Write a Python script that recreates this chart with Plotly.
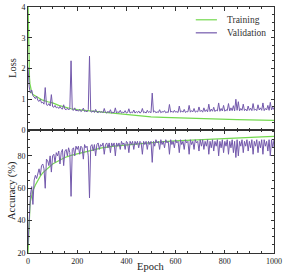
import numpy as np
import plotly.graph_objects as go
from plotly.subplots import make_subplots

# ---------------- data ----------------
train_epochs = [0, 2, 4, 6, 8, 10, 15, 20, 30, 40, 50, 60, 80, 100, 125, 150, 175, 200,
                250, 300, 350, 400, 450, 500, 550, 600, 650, 700, 750, 800, 850, 900, 950, 1000]
train_loss = [4.2, 2.7, 2.0, 1.7, 1.5, 1.4, 1.22, 1.15, 1.1, 1.05, 1.0, 0.97, 0.92, 0.88, 0.8,
              0.74, 0.69, 0.66, 0.62, 0.58, 0.53, 0.49, 0.45, 0.43, 0.41, 0.395, 0.38, 0.37,
              0.36, 0.35, 0.34, 0.33, 0.32, 0.31]
train_acc = [20, 30, 38, 44, 49, 52, 56, 58.5, 62, 65, 67.5, 69.5, 72.5, 75, 77, 79, 80.3, 81.3,
             83.3, 85, 86, 86.8, 87.6, 88.3, 88.8, 89.3, 89.7, 90.1, 90.5, 90.8, 91.1, 91.4,
             91.7, 92]

val_epochs = list(range(0, 1001, 5))
val_loss = [
    2.05, 1.40, 1.20, 1.30, 1.12, 1.08, 1.02, 1.10, 0.96, 0.93,
    1.00, 0.88, 0.90, 0.84, 1.38, 0.82, 0.80, 0.86, 0.78, 1.15,
    0.76, 0.74, 0.80, 0.72, 0.75, 0.70, 0.77, 0.70, 0.68, 0.82,
    0.68, 0.66, 0.71, 0.65, 0.69, 2.25, 0.66, 0.64, 0.72, 0.62,
    0.65, 0.61, 0.67, 0.60, 0.63, 0.71, 0.60, 0.62, 0.59, 0.66,
    2.40, 0.60, 0.58, 0.63, 0.57, 0.67, 0.58, 0.56, 0.62, 0.57,
    0.60, 0.56, 0.70, 0.57, 0.55, 0.61, 0.56, 0.66, 0.55, 0.58,
    0.56, 0.72, 0.55, 0.60, 0.56, 0.64, 0.55, 0.58, 0.56, 0.63,
    0.55, 0.57, 0.69, 0.55, 0.58, 0.56, 0.65, 0.55, 0.60, 0.56,
    0.62, 0.55, 0.58, 0.70, 0.56, 0.59, 0.55, 0.64, 0.57, 0.60,
    0.56, 1.20, 0.58, 0.62, 0.56, 0.59, 0.57, 0.66, 0.56, 0.60,
    0.58, 0.63, 0.56, 0.59, 0.57, 0.83, 0.58, 0.61, 0.57, 0.64,
    0.58, 0.60, 0.57, 0.78, 0.58, 0.62, 0.58, 0.67, 0.57, 0.60,
    0.59, 0.80, 0.58, 0.63, 0.59, 0.70, 0.58, 0.61, 0.59, 0.75,
    0.60, 0.64, 0.58, 0.72, 0.60, 0.66, 0.59, 0.84, 0.60, 0.68,
    0.61, 0.74, 0.60, 0.65, 0.62, 0.88, 0.61, 0.70, 0.62, 0.80,
    0.61, 0.66, 0.63, 0.86, 0.62, 0.72, 0.63, 0.79, 0.62, 1.00,
    0.64, 0.92, 0.62, 0.70, 0.64, 0.84, 0.63, 0.68, 0.62, 0.78,
    0.64, 0.71, 0.63, 0.86, 0.64, 0.68, 0.63, 0.82, 0.65, 0.72,
    0.64, 0.88, 0.63, 0.70, 0.65, 0.80, 0.64, 0.90, 0.65, 0.74,
    0.66,
]
val_acc = [
    25, 46, 56, 61, 50, 65, 68, 66, 70, 72,
    68, 74, 75, 72, 60, 78, 77, 74, 80, 70,
    80, 81, 76, 82, 80, 83, 75, 82, 84, 74,
    83, 84, 80, 85, 82, 55, 84, 85, 80, 86,
    84, 86, 81, 86, 85, 78, 87, 85, 86, 80,
    54, 86, 87, 83, 87, 80, 87, 88, 84, 87,
    86, 88, 81, 87, 88, 85, 88, 82, 88, 86,
    88, 80, 88, 86, 88, 84, 89, 87, 88, 84,
    89, 88, 82, 89, 87, 89, 84, 89, 87, 89,
    85, 89, 88, 81, 89, 87, 89, 84, 89, 87,
    89, 76, 89, 86, 90, 88, 89, 84, 90, 87,
    89, 85, 90, 88, 89, 81, 90, 87, 89, 85,
    90, 88, 89, 82, 90, 87, 89, 84, 90, 88,
    89, 81, 90, 87, 89, 84, 90, 88, 89, 83,
    90, 86, 90, 84, 89, 86, 90, 81, 89, 85,
    90, 83, 89, 86, 90, 80, 89, 85, 90, 82,
    89, 86, 90, 81, 89, 85, 90, 82, 89, 79,
    90, 80, 89, 86, 90, 82, 89, 86, 90, 83,
    89, 85, 90, 81, 89, 86, 90, 82, 89, 85,
    90, 81, 90, 86, 89, 83, 90, 80, 90, 85,
    90,
]
assert len(val_loss) == len(val_epochs) == len(val_acc)

# ---------------- style ----------------
C_TRAIN = "#74d94f"
C_VAL = "#7359ac"
FONT = "Liberation Serif"
AXC = "#333333"
TXT = "#222222"

fig = make_subplots(rows=2, cols=1, shared_xaxes=True, vertical_spacing=0)

fig.add_trace(go.Scatter(x=train_epochs, y=train_loss, mode="lines", name="Training",
                         line=dict(color=C_TRAIN, width=1.2), showlegend=False), row=1, col=1)
fig.add_trace(go.Scatter(x=val_epochs, y=val_loss, mode="lines", name="Validation",
                         line=dict(color=C_VAL, width=1), showlegend=False), row=1, col=1)
fig.add_trace(go.Scatter(x=train_epochs, y=train_acc, mode="lines", name="Training",
                         line=dict(color=C_TRAIN, width=1.2), showlegend=False), row=2, col=1)
fig.add_trace(go.Scatter(x=val_epochs, y=val_acc, mode="lines", name="Validation",
                         line=dict(color=C_VAL, width=1), showlegend=False), row=2, col=1)

common = dict(showline=True, linecolor=AXC, linewidth=1, mirror="allticks",
              ticks="inside", ticklen=3.5, tickwidth=0.8, tickcolor=AXC,
              showgrid=False, zeroline=False, automargin=False,
              tickfont=dict(family=FONT, size=8, color=TXT))

fig.update_xaxes(range=[0, 1000], dtick=200,
                 minor=dict(ticks="inside", dtick=50, ticklen=2, tickcolor=AXC, tickwidth=0.6),
                 **common)
fig.update_yaxes(range=[0, 4], dtick=1,
                 minor=dict(ticks="inside", dtick=0.25, ticklen=2, tickcolor=AXC, tickwidth=0.6),
                 row=1, col=1, **common)
fig.update_yaxes(range=[20, 96], tickvals=[20, 40, 60, 80],
                 minor=dict(ticks="inside", dtick=5, ticklen=2, tickcolor=AXC, tickwidth=0.6),
                 row=2, col=1, **common)

# axis titles as annotations (precise placement)
title_font = dict(family=FONT, size=10.5, color=TXT)
fig.add_annotation(xref="paper", yref="paper", x=-0.065, y=0.752, text="Loss", textangle=-90,
                   showarrow=False, xanchor="center", yanchor="middle", font=title_font)
fig.add_annotation(xref="paper", yref="paper", x=-0.065, y=0.252, text="Accuracy (%)", textangle=-90,
                   showarrow=False, xanchor="center", yanchor="middle", font=title_font)
fig.add_annotation(xref="paper", yref="paper", x=0.5, y=-0.053, text="Epoch",
                   showarrow=False, xanchor="center", yanchor="middle", font=title_font)

# legend drawn manually (top right of upper panel)
leg_items = [("Training", C_TRAIN, 0.948), ("Validation", C_VAL, 0.895)]
for label, col, yy in leg_items:
    fig.add_shape(type="line", xref="paper", yref="paper", x0=0.682, x1=0.768, y0=yy, y1=yy,
                  line=dict(color=col, width=1.2))
    fig.add_annotation(xref="paper", yref="paper", x=0.800, y=yy, text=label, showarrow=False,
                       xanchor="left", yanchor="middle",
                       font=dict(family=FONT, size=9.5, color="#333"))

fig.update_layout(width=287, height=273, margin=dict(l=28, r=13, t=7, b=20),
                  paper_bgcolor="white", plot_bgcolor="white", showlegend=False)

fig.write_html("out.html", config={"displayModeBar": False},
               post_script="document.body.style.margin='0px';document.body.style.overflow='hidden';")
